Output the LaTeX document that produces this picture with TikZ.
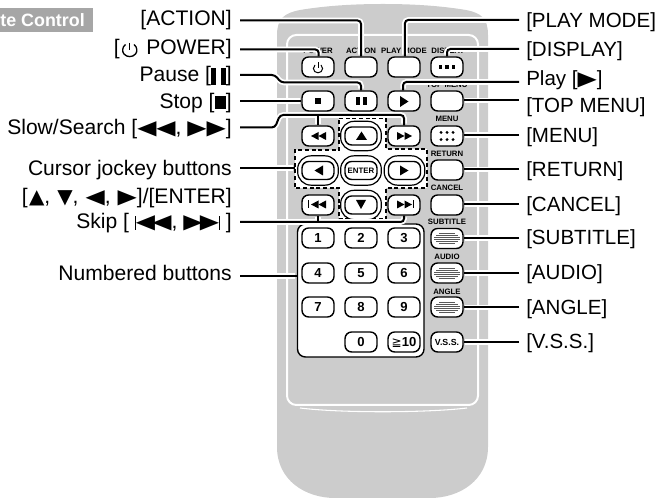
\documentclass[tikz,border=0pt]{standalone}
\usepackage{fontspec}
\usepackage{graphicx}
\usetikzlibrary{calc}
\setmainfont{Liberation Sans}
\newfontfamily\symf{DejaVu Sans}
\definecolor{bodyg}{HTML}{CCCCCC}
\definecolor{titleg}{HTML}{A6A6A6}
\newcommand{\fsz}[1]{\fontsize{#1}{#1}\selectfont}
\newcommand{\Tl}{\scalebox{1.25}[1]{\symf\fsz{15}◀}}
\newcommand{\Tr}{\scalebox{1.25}[1]{\symf\fsz{15}▶}}
\newcommand{\Tu}{{\symf\fsz{15}▲}}
\newcommand{\Td}{{\symf\fsz{15}▼}}
\tikzset{
  x=0.75pt,y=-0.75pt,
  lbl/.style={inner sep=0pt,font=\fsz{15.8},anchor=base east},
  rlbl/.style={inner sep=0pt,font=\fsz{15.4},anchor=base west},
  small/.style={inner sep=0pt,font=\fsz{5.85}\bfseries},
  btn/.style={draw=black,fill=white,line width=1.05pt,rounded corners=5pt,minimum width=24pt,minimum height=15pt,inner sep=0pt,font=\fsz{9.8}\bfseries},
  outerb/.style={draw=black,fill=white,line width=0.9pt,rounded corners=10pt,minimum width=30.5pt,minimum height=22pt,inner sep=0pt},
  innerb/.style={draw=black,fill=white,line width=1.05pt,rounded corners=5pt,minimum width=24pt,minimum height=13.5pt,inner sep=0pt,font=\fsz{5.9}\bfseries},
  leader/.style={draw=black,line width=1.5pt,rounded corners=2.5pt},
  halo/.style={draw=white,line width=4.2pt,rounded corners=2.5pt,shorten >=1.3pt},
  stripe/.style={draw=black!65,line width=0.45pt},
}
\newcommand{\allLeaders}[1]{%
\draw[#1] (La) -| (action.north);
\draw[#1] (Lb) -| ([xshift=0.5pt]power.north);
\draw[#1] (Lc) -- (275,75) -- (281,82.5) -| (pause.north);
\draw[#1] (Ld) -- (stop.west);
\draw[#1] (Le) -- (275,127.5) -- (280,115) -| (ffw.north);
\draw[#1] (rew.north |- 0,115) -- (rew.north);
\draw[#1] (Lf) -- (crossw);
\draw[#1] (Lg) -| (skipf.south);
\draw[#1] (skipb.south |- Lg) -- (skipb.south);
\draw[#1] (Lh) -- (panel.west |- Lh);
\draw[#1] (Ra) -| ([xshift=0.7pt]playmode.north);
\draw[#1] (Rb) -| (display.north);
\draw[#1] (Rc) -| ([xshift=-0.7pt]play.north);
\draw[#1] (Rd) -- (topmenu.east |- Rd);
\draw[#1] (Re) -- (menu.east |- Re);
\draw[#1] (Rf) -- (return.east |- Rf);
\draw[#1] (Rg) -- (cancel.east |- Rg);
\draw[#1] (Rh) -- (subtitle.east |- Rh);
\draw[#1] (Ri) -- (audio.east |- Ri);
\draw[#1] (Rj) -- (angle.east |- Rj);
\draw[#1] (Rk) -- (vss.east |- Rk);
}
\begin{document}
\begin{tikzpicture}
\useasboundingbox (0,0) rectangle (664,498);
% title
\fill[titleg] (0,8) rectangle (93,32);
\node[inner sep=0pt,anchor=east,text=white,font=\fsz{13.4}\bfseries] (title) at (85,20.5) {te Control};
% remote body
\path[fill=bodyg] (277,447) -- (277,35) .. controls (277,18) and (285,13) .. (300,10) .. controls (330,5) and (360,4) .. (383,4) .. controls (406,4) and (436,5) .. (466,10) .. controls (481,13) and (488,18) .. (488,35) -- (488,447) .. controls (488,480) and (460,498) .. (430,498) -- (335,498) .. controls (305,498) and (277,480) .. (277,447) -- cycle;
\draw[white,line width=1.5pt,rounded corners=7pt] (287,35) rectangle (478,405);
\draw[white,line width=0.8pt] (300,408) .. controls (340,413) and (425,413) .. (467,408);
% small labels
\node[small] (lpower) at (318,50.5) {POWER};
\node[small] (laction) at (361,50.5) {ACTION};
\node[small] (lplay) at (404,50.5) {PLAY MODE};
\node[small] (ldisp) at (448,50.5) {DISPLAY};
\node[small] (ltop) at (447,85) {TOP MENU};
\node[small] (lmenu) at (447,119) {MENU};
\node[small] (lret) at (447,154) {RETURN};
\node[small] (lcan) at (447,188) {CANCEL};
\node[small] (lsub) at (447,222) {SUBTITLE};
\node[small] (laud) at (447,257) {AUDIO};
\node[small] (lang) at (447,292) {ANGLE};
% panel and cross
\node[draw=black,fill=white,line width=1.05pt,rounded corners=6pt,minimum width=94.9pt,minimum height=99.75pt,inner sep=0pt] (panel) at (360.75,290.5) {};
\path[fill=white] (339,118) -- (386,118) -- (386,149) -- (427,149) -- (427,188) -- (386,188) -- (386,219) -- (339,219) -- (339,188) -- (295,188) -- (295,150) -- (339,150) -- cycle;
\draw[black,line width=1.5pt,dash pattern=on 3pt off 2pt] (339,118) -- (386,118) -- (386,149) -- (427,149) -- (427,188) -- (386,188) -- (386,219) -- (339,219) -- (339,188) -- (295,188) -- (295,150) -- (339,150) -- cycle;
\coordinate (crossw) at (295,168);
% buttons
\node[btn] (power) at (318,67) {};
\node[btn] (action) at (361,67) {};
\node[btn] (playmode) at (404,67) {};
\node[btn] (display) at (447,67) {};
\node[btn] (stop) at (318,101) {};
\node[btn] (pause) at (361,101) {};
\node[btn] (play) at (404,101) {};
\node[btn] (topmenu) at (447,101) {};
\node[btn] (rew) at (318,136) {};
\node[btn] (ffw) at (404,136) {};
\node[btn] (menu) at (447,136) {};
\node[btn] (return) at (447,170) {};
\node[btn] (skipb) at (318,205) {};
\node[btn] (skipf) at (404,205) {};
\node[btn] (cancel) at (447,205) {};
\node[btn] (subtitle) at (447,238.5) {};
\node[btn] (audio) at (447,273) {};
\node[btn] (angle) at (447,307) {};
\node[btn,font=\fsz{6.6}\bfseries] (vss) at (447,342) {V.S.S.};
\node[outerb] (upo) at (361,136) {};
\node[innerb] (up) at (361,136) {};
\node[outerb] (lefto) at (318,170.5) {};
\node[innerb] (left) at (318,170.5) {};
\node[outerb] (entero) at (361,170.5) {};
\node[innerb] (enter) at (361,170.5) {ENTER};
\node[outerb] (righto) at (404.5,170.5) {};
\node[innerb] (right) at (404.5,170.5) {};
\node[outerb] (downo) at (361,205) {};
\node[innerb] (down) at (361,205) {};
\node[btn] (n1) at (318,238) {1};
\node[btn] (n2) at (361,238) {2};
\node[btn] (n3) at (404,238) {3};
\node[btn] (n4) at (318,273) {4};
\node[btn] (n5) at (361,273) {5};
\node[btn] (n6) at (404,273) {6};
\node[btn] (n7) at (318,307) {7};
\node[btn] (n8) at (361,307) {8};
\node[btn] (n9) at (404,307) {9};
\node[btn] (n0) at (361,342) {0};
\node[btn] (n10) at (404,342) {{\symf\fontsize{9}{9}\selectfont\mdseries ≧}10};
% button icons
\draw[line width=0.75pt] (315,65) .. controls (313.9,66) and (313.4,67.2) .. (313.4,68.5) .. controls (313.4,71) and (315.5,72.8) .. (318,72.8) .. controls (320.5,72.8) and (322.6,71) .. (322.6,68.5) .. controls (322.6,67.2) and (322.1,66) .. (321,65);
\draw[line width=0.75pt] (318,62.5) -- (318,68.5);
\foreach \i in {-6.5,0,6.5} \fill ($(display.center)+(\i,0)$) +(-1.8,-1.8) rectangle +(1.8,1.8);
\fill (315,98.5) rectangle (321,104.5);
\fill (355.5,97.5) rectangle (359.5,105);
\fill (362.5,97.5) rectangle (366.5,105);
\fill (400,96) -- (408.5,101.5) -- (400,107) -- cycle;
\fill (318.5,132) -- (311,136) -- (318.5,140) -- cycle;
\fill (326,132) -- (318.5,136) -- (326,140) -- cycle;
\fill (397,132) -- (404.5,136) -- (397,140) -- cycle;
\fill (404.5,132) -- (412,136) -- (404.5,140) -- cycle;
\fill (361.5,131.5) -- (367,140) -- (356,140) -- cycle;
\fill (356,200) -- (366,200) -- (361,209) -- cycle;
\fill (323,165.5) -- (323,175.5) -- (314.5,170.5) -- cycle;
\fill (400,165.5) -- (400,175.5) -- (408.5,170.5) -- cycle;
\fill (318.5,200.5) -- (311,204.5) -- (318.5,208.5) -- cycle;
\fill (326,200.5) -- (318.5,204.5) -- (326,208.5) -- cycle;
\fill (307.5,200.5) rectangle (308.8,208.5);
\fill (397,200.5) -- (404.5,204.5) -- (397,208.5) -- cycle;
\fill (404.5,200.5) -- (412,204.5) -- (404.5,208.5) -- cycle;
\fill (412.7,200.5) rectangle (414,208.5);
\foreach \xx in {-6,0,6} \foreach \yy in {-3.6,3.6} \fill ($(menu.center)+(\xx,\yy)$) circle[radius=1.6];
\foreach \b in {subtitle,audio,angle}{
  \foreach \dy/\w in {-5/8,-3/11,-1/13,1/13,3/11,5/8}
    \draw[stripe] ($(\b.center)+(-\w,\dy)$) -- ($(\b.center)+(\w,\dy)$);
}
% text labels
\node[lbl] (tact) at (232,25.5) {[ACTION]};
\node[lbl] (tpow) at (232,55) {[\hspace{20pt}POWER]};
\node[lbl] (tpau) at (232,82) {Pause [\rule[-2pt]{3.8pt}{12.5pt}\kern3.5pt\rule[-2pt]{3.8pt}{12.5pt}]};
\node[lbl] (tsto) at (232,108.5) {Stop [\rule[-0.5pt]{8.5pt}{10pt}]};
\node[lbl] (tslo) at (232,135) {Slow/Search [\Tl\Tl, \Tr\Tr]};
\node[lbl] (tcur) at (232,175.7) {Cursor jockey buttons};
\node[lbl] (tcu2) at (232,203.5) {[\kern1pt\Tu,\,\,\Td,\,\,\Tl,\,\,\Tr]/[ENTER]};
\node[lbl] (tski) at (232,229) {Skip [ \rule[-0.5pt]{0.7pt}{10.5pt}\Tl\kern-2pt\Tl, \Tr\kern-2pt\Tr\rule[-0.5pt]{0.7pt}{10.5pt} ]};
\node[lbl] (tnum) at (232,281) {Numbered buttons};
\draw[line width=1pt] (129.7,43) -- (129.7,50);
\draw[line width=1pt] (125.5,44.5) .. controls (122,47) and (122,52) .. (124,54) .. controls (127,57.5) and (132.5,57.5) .. (135.5,54) .. controls (137.5,52) and (137.5,47) .. (134,44.5);
\node[rlbl] (rpm) at (526,28) {[PLAY MODE]};
\node[rlbl] (rdi) at (526,56.7) {[DISPLAY]};
\node[rlbl] (rpl) at (526,86) {Play [\Tr]};
\node[rlbl] (rtm) at (526,113) {[TOP MENU]};
\node[rlbl] (rme) at (526,142.7) {[MENU]};
\node[rlbl] (rre) at (526,176.7) {[RETURN]};
\node[rlbl] (rca) at (526,211.7) {[CANCEL]};
\node[rlbl] (rsu) at (526,245) {[SUBTITLE]};
\node[rlbl] (rau) at (526,280) {[AUDIO]};
\node[rlbl] (ran) at (526,314.3) {[ANGLE]};
\node[rlbl] (rvs) at (526,348.3) {[V.S.S.]};
% free ends
\foreach \n/\y in {a/20.5,b/49.5,c/75,d/101,e/127.5,f/168,g/222,h/276}
  \coordinate (L\n) at (240,\y);
\foreach \n/\y in {a/20,b/49,c/82,d/100.5,e/135,f/169.5,g/204,h/238,i/273,j/307.5,k/342}
  \coordinate (R\n) at (519,\y);
% leaders: white halo first, black line on top
\allLeaders{halo}
\allLeaders{leader}
\end{tikzpicture}
\end{document}
